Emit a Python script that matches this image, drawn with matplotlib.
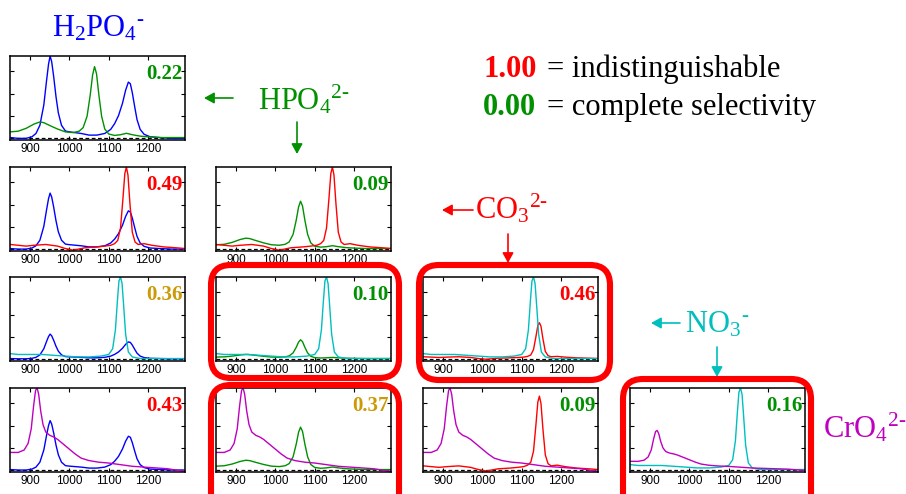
import matplotlib
matplotlib.use('Agg')
import matplotlib.pyplot as plt
from matplotlib.patches import FancyBboxPatch, FancyArrowPatch
import numpy as np

plt.rcParams['mathtext.fontset'] = 'custom'
plt.rcParams['mathtext.rm'] = 'Liberation Serif'
plt.rcParams['mathtext.it'] = 'Liberation Serif:italic'
plt.rcParams['mathtext.bf'] = 'Liberation Serif:bold'

# ---- spectra (each normalised to its own peak) ----
h2po4_x = [850, 870, 890, 905, 915, 925, 935, 942, 947, 951, 955, 960, 966, 972, 980, 990,
           1000, 1015, 1030, 1050, 1070, 1090, 1105, 1115, 1125, 1135, 1143, 1150, 1155,
           1160, 1166, 1172, 1180, 1190, 1205, 1230, 1260, 1295]
h2po4_y = [0.00, -0.01, -0.01, 0.01, 0.05, 0.15, 0.40, 0.70, 0.90, 1.00, 0.93, 0.75, 0.50,
           0.30, 0.15, 0.08, 0.07, 0.06, 0.05, 0.03, 0.03, 0.05, 0.10, 0.17, 0.27, 0.42,
           0.58, 0.68, 0.66, 0.55, 0.38, 0.22, 0.10, 0.04, 0.01, 0.00, -0.01, -0.01]

hpo4_x = [850, 870, 890, 910, 925, 935, 950, 970, 990, 1010, 1025, 1035, 1045, 1053, 1059,
          1064, 1069, 1075, 1082, 1090, 1100, 1115, 1130, 1145, 1160, 1180, 1200, 1230,
          1260, 1295]
hpo4_y = [0.08, 0.09, 0.13, 0.19, 0.22, 0.21, 0.17, 0.12, 0.08, 0.07, 0.09, 0.14, 0.30,
          0.60, 0.88, 1.00, 0.90, 0.60, 0.30, 0.12, 0.05, 0.03, 0.04, 0.06, 0.04, 0.02,
          0.01, 0.00, 0.00, 0.00]

co3_x = [850, 870, 890, 910, 940, 970, 990, 1010, 1040, 1070, 1090, 1105, 1115, 1123, 1130,
         1136, 1141, 1145, 1149, 1154, 1160, 1167, 1175, 1190, 1210, 1240, 1270, 1295]
co3_y = [0.05, 0.04, 0.03, 0.04, 0.05, 0.03, 0.00, -0.02, 0.01, 0.02, 0.03, 0.04, 0.06,
         0.10, 0.25, 0.60, 0.92, 1.00, 0.90, 0.55, 0.20, 0.08, 0.05, 0.06, 0.04, 0.02,
         0.01, 0.00]

no3_x = [850, 870, 900, 930, 960, 990, 1020, 1050, 1080, 1100, 1110, 1117, 1122, 1126,
         1130, 1134, 1138, 1143, 1150, 1160, 1180, 1210, 1250, 1295]
no3_y = [0.06, 0.05, 0.05, 0.05, 0.04, 0.03, 0.02, 0.02, 0.03, 0.05, 0.12, 0.35, 0.70,
         0.95, 1.00, 0.92, 0.65, 0.30, 0.08, 0.02, 0.00, 0.00, 0.00, 0.00]

cro4_x = [850, 870, 885, 895, 903, 909, 914, 918, 922, 927, 933, 940, 950, 960, 970, 980,
          990, 1000, 1015, 1030, 1050, 1075, 1100, 1130, 1160, 1190, 1220, 1250, 1275, 1295]
cro4_y = [0.21, 0.21, 0.24, 0.32, 0.50, 0.78, 0.97, 1.00, 0.92, 0.72, 0.55, 0.46, 0.42,
          0.40, 0.37, 0.33, 0.29, 0.25, 0.19, 0.14, 0.11, 0.09, 0.08, 0.06, 0.04, 0.03,
          0.02, 0.01, -0.01, -0.02]

# ---- panels: row/col in the triangle, the two anions, their heights, similarity ----
panel_rows = [0, 1, 1, 2, 2, 2, 3, 3, 3, 3]
panel_cols = [0, 0, 1, 0, 1, 2, 0, 1, 2, 3]
first_ion = ['H2PO4', 'H2PO4', 'HPO4', 'H2PO4', 'HPO4', 'CO3', 'H2PO4', 'HPO4', 'CO3', 'NO3']
second_ion = ['HPO4', 'CO3', 'CO3', 'NO3', 'NO3', 'NO3', 'CrO4', 'CrO4', 'CrO4', 'CrO4']
first_scale = [1.00, 0.68, 0.58, 0.30, 0.23, 0.44, 0.60, 0.52, 0.90, 1.00]
second_scale = [0.87, 1.00, 1.00, 1.00, 1.00, 1.00, 1.00, 1.00, 1.00, 0.48]
similarity = ['0.22', '0.49', '0.09', '0.36', '0.10', '0.46', '0.43', '0.37', '0.09', '0.16']
boxed = [(2, 1), (2, 2), (3, 1), (3, 3)]

xticks = [900, 1000, 1100, 1200]

BLUE, GREEN, RED, CYAN, MAG = '#0000ff', '#009000', '#ff0000', '#00bfbf', '#bf00bf'
GOLD = '#cc9a06'

spectra = {
    'H2PO4': (h2po4_x, h2po4_y, BLUE),
    'HPO4': (hpo4_x, hpo4_y, GREEN),
    'CO3': (co3_x, co3_y, RED),
    'NO3': (no3_x, no3_y, CYAN),
    'CrO4': (cro4_x, cro4_y, MAG),
}


def sim_color(v):
    v = float(v)
    if v < 0.3:
        return GREEN
    if v < 0.4:
        return GOLD
    return RED


W, H = 906, 494


def px(x, y):
    # pixel position -> inches (for dpi_scale_trans)
    return (x / 100.0, (H - y) / 100.0)


fig = plt.figure(figsize=(W / 100, H / 100), dpi=100)
tr = fig.dpi_scale_trans

col_left = [10, 216, 423, 630]
row_top = [56, 167, 277, 388]
aw, ah = 175, 84

for i in range(len(panel_rows)):
    l, t = col_left[panel_cols[i]], row_top[panel_rows[i]]
    ax = fig.add_axes([l / W, 1 - (t + ah) / H, aw / W, ah / H])
    for ion, sc in ((first_ion[i], first_scale[i]), (second_ion[i], second_scale[i])):
        x, y, c = spectra[ion]
        ax.plot(x, np.array(y) * sc, color=c, lw=1.0)
    ax.axhline(0, color='black', ls=(0, (3, 2)), lw=0.9, zorder=1)
    ax.set_xlim(849, 1294)
    ax.set_ylim(-0.03, 1.0)
    ax.set_xticks(xticks)
    ax.set_yticks([0.27, 0.54, 0.81])
    ax.set_yticklabels([])
    ax.tick_params(direction='in', top=True, right=True, length=3, width=0.8,
                   labelsize=8.5, pad=2)
    for lab in ax.get_xticklabels():
        lab.set_family('Liberation Sans')
    for s in ax.spines.values():
        s.set_linewidth(1.1)
    ax.text(0.985, 0.73, similarity[i], transform=ax.transAxes, ha='right', va='baseline',
            fontsize=15, fontweight='bold', family='Liberation Serif',
            color=sim_color(similarity[i]))

# red rounded boxes around selected panels
box_px = {(2, 1): (211, 265, 399, 378), (2, 2): (419, 265, 610, 380),
          (3, 1): (211, 385, 399, 515), (3, 3): (623, 379, 811, 515)}
for key in boxed:
    x0, y0, x1, y1 = box_px[key]
    bx, by = px(x0, y1)
    fig.add_artist(FancyBboxPatch((bx, by), (x1 - x0) / 100, (y1 - y0) / 100,
                                  boxstyle='round,pad=0,rounding_size=0.2',
                                  transform=tr, fill=False, edgecolor=RED, lw=4.4,
                                  zorder=5))

# anion labels
lab_kw = dict(transform=tr, fontsize=22, ha='left', va='baseline')
fig.text(*px(52, 36), r'$\mathrm{H_2PO_4{}^{\text{-}}}$', color=BLUE, **lab_kw)
fig.text(*px(258, 109), r'$\mathrm{HPO_4{}^{2\text{-}}}$', color=GREEN, **lab_kw)
fig.text(*px(475, 218), r'$\mathrm{CO_3{}^{2\text{-}}}$', color=RED, **lab_kw)
fig.text(*px(685, 332), r'$\mathrm{NO_3{}^{\text{-}}}$', color=CYAN, **lab_kw)
fig.text(*px(823, 437), r'$\mathrm{CrO_4{}^{2\text{-}}}$', color=MAG, **lab_kw)

# legend for the numbers
fig.text(*px(483, 77), '1.00', color=RED, fontsize=22, fontweight='bold',
         family='Liberation Serif', transform=tr, va='baseline')
fig.text(*px(547, 77), '= indistinguishable', color='black', fontsize=22,
         family='Liberation Serif', transform=tr, va='baseline')
fig.text(*px(483, 115), '0.00', color=GREEN, fontsize=22, fontweight='bold',
         family='Liberation Serif', transform=tr, va='baseline')
fig.text(*px(547, 115), '= complete selectivity', color='black', fontsize=22,
         family='Liberation Serif', transform=tr, va='baseline')

# arrows
arrows = [((233, 98), (204, 98), GREEN), ((297, 122), (297, 154), GREEN),
          ((473, 210), (442, 210), RED), ((508, 234), (508, 263), RED),
          ((680, 323), (651, 323), CYAN), ((717, 347), (717, 377), CYAN)]
for a, b, c in arrows:
    fig.add_artist(FancyArrowPatch(px(*a), px(*b), transform=tr, color=c, lw=1.2,
                                   arrowstyle='-|>,head_length=4,head_width=2.2',
                                   mutation_scale=1.5, shrinkA=0, shrinkB=0))

fig.savefig('out.png', dpi=100)
